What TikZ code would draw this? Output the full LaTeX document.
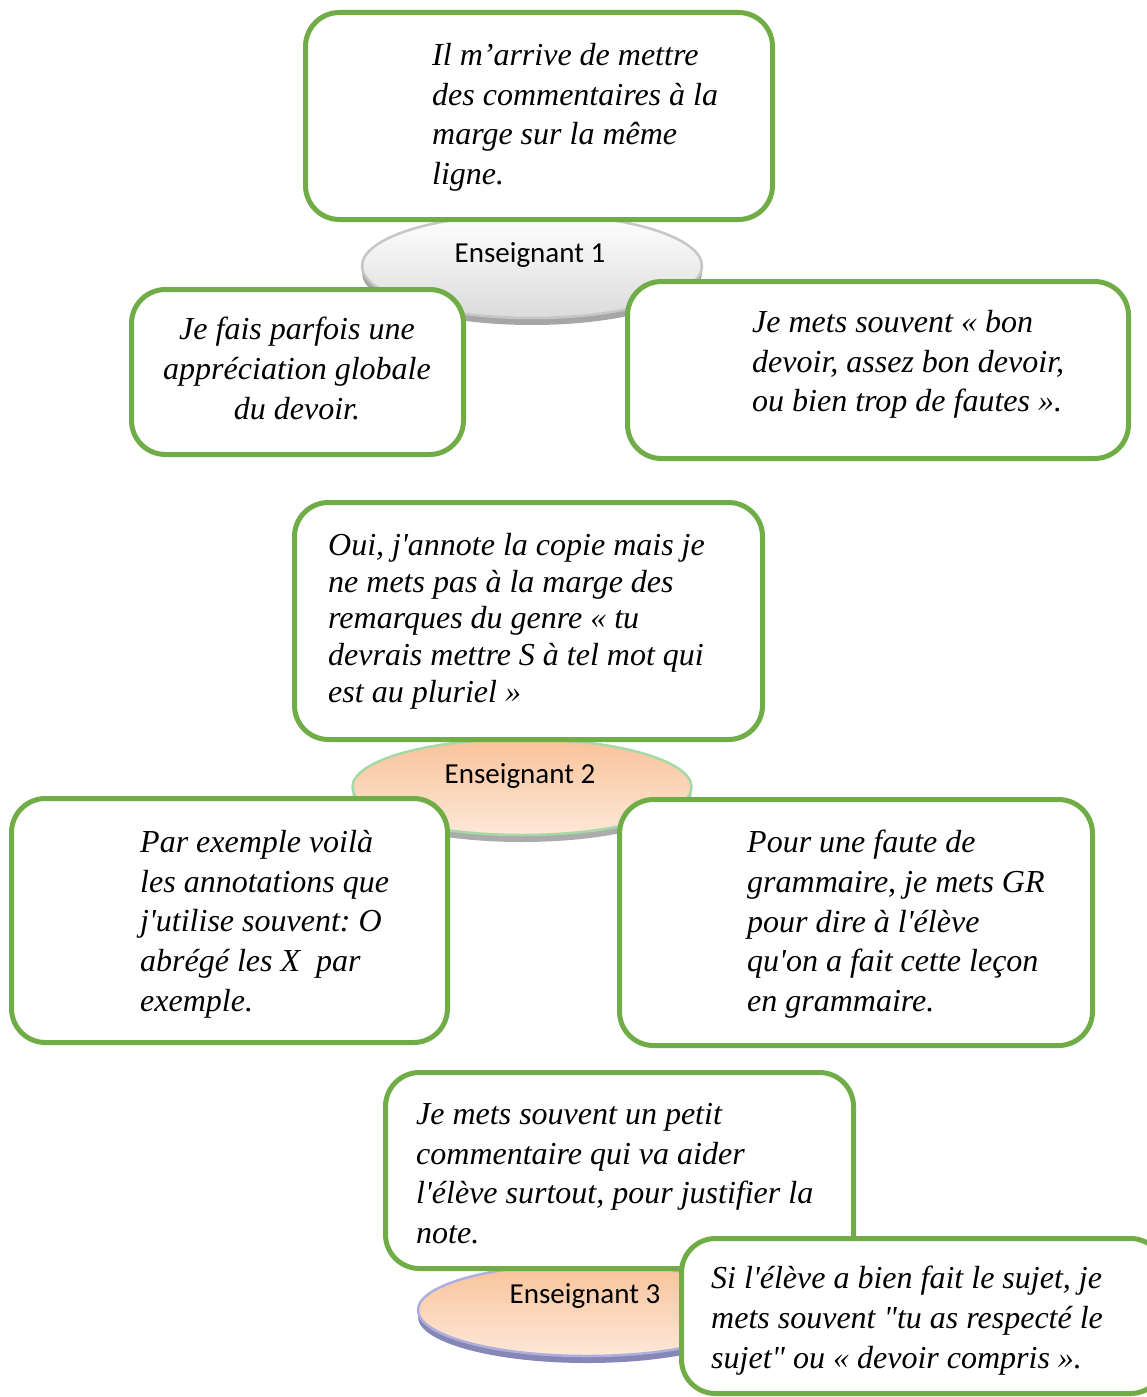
\documentclass[tikz,border=0pt]{standalone}
\usepackage{fontspec}
\setmainfont{Liberation Serif}[Ligatures=TeXOff]
\newfontfamily\lblfont{Carlito}
\usetikzlibrary{shapes.geometric}
\definecolor{vert}{HTML}{70AD47}
\definecolor{orhaut}{HTML}{F9C29A}
\definecolor{orbas}{HTML}{FDE8D8}
\frenchspacing
\begin{document}
\begin{tikzpicture}[x=1pt,y=-1pt,
  boite/.style={draw=vert,line width=5pt,rounded corners=34pt,fill=white,inner sep=0pt},
  texte/.style={anchor=north west,align=left,inner sep=0pt,font=\fontsize{32}{39.7}\selectfont\itshape},
  bulle/.style={ellipse,inner sep=0pt,line width=2.5pt},
  ombre/.style={ellipse,inner sep=0pt,fill=#1},
  nom/.style={anchor=base,inner sep=0pt,font=\lblfont\fontsize{29}{34}\selectfont}]
\useasboundingbox[fill=white](0,0)rectangle(1147,1397);
\node[ombre=gray!70,minimum width=340,minimum height=104](s1)at(532,273){};
\node[bulle,draw=gray!45,top color=white,bottom color=gray!28,minimum width=340,minimum height=104](e1)at(532,266){};
\node[nom](n1)at(530,262){Enseignant 1};
\node[ombre=gray!65,minimum width=339,minimum height=96](s2)at(522,794){};
\node[bulle,draw=green!40!gray!50,top color=orhaut,bottom color=orbas,minimum width=339,minimum height=96](e2)at(522,787){};
\node[nom](n2)at(520,783){Enseignant 2};
\node[ombre=blue!25!gray!75,minimum width=338,minimum height=92](s3)at(587,1317){};
\node[bulle,draw=blue!40!gray!45,top color=orhaut,bottom color=orbas,minimum width=338,minimum height=92](e3)at(587,1310){};
\node[nom](n3)at(585,1303){Enseignant 3};

\node[boite,minimum width=467,minimum height=207](b1)at(539,116){};
\node[boite,minimum width=332,minimum height=165](b2)at(297.5,372){};
\node[boite,minimum width=501,minimum height=177](b3)at(878,370){};
\node[boite,minimum width=468,minimum height=237](b4)at(528.5,621){};
\node[boite,minimum width=436,minimum height=244](b5)at(229.5,920.5){};
\node[boite,minimum width=473,minimum height=246](b6)at(856,922.5){};
\node[boite,minimum width=468,minimum height=196](b7)at(619.5,1170.5){};
\node[boite,minimum width=483,minimum height=155](b8)at(923,1316){};

\node[texte](t1)at(432,43){Il m’arrive de mettre\\des commentaires à la\\marge sur la même\\ligne.};
\node[texte,anchor=north,align=center](t2)at(297,317){Je fais parfois une\\appréciation globale\\du devoir.};
\node[texte](t3)at(752,310){Je mets souvent « bon\\devoir, assez bon devoir,\\ou bien trop de fautes ».};
\node[texte,font=\fontsize{32}{36.7}\selectfont\itshape](t4)at(328,533){Oui, j'annote la copie mais je\\ne mets pas à la marge des\\remarques du genre « tu\\devrais mettre S à tel mot qui\\est au pluriel »};
\node[texte](t5)at(140,830){Par exemple voilà\\les annotations que\\j'utilise souvent: O\\abrégé les X \ par\\exemple.};
\node[texte](t6)at(747,830){Pour une faute de\\grammaire, je mets GR\\pour dire à l'élève\\qu'on a fait cette leçon\\en grammaire.};
\node[texte](t7)at(416,1103){Je mets souvent un petit\\commentaire qui va aider\\l'élève surtout, pour justifier la\\note.};
\node[texte](t8)at(711,1266){Si l'élève a bien fait le sujet, je\\mets souvent "tu as respecté le\\sujet" ou « devoir compris ».};
\end{tikzpicture}
\end{document}
